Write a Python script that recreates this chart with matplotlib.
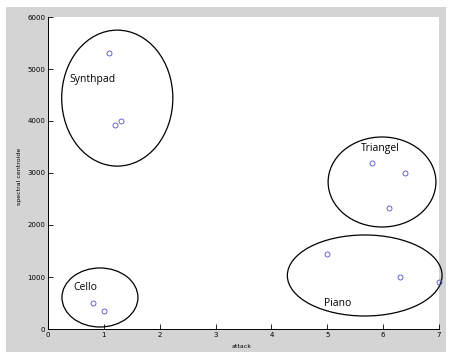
import matplotlib.pyplot as plt
from matplotlib.patches import Ellipse, Rectangle

# points (attack, spectral centroid)
synth_x = [1.1, 1.2, 1.3]
synth_y = [5310, 3920, 4000]
triangel_x = [5.8, 6.4, 6.1]
triangel_y = [3200, 3000, 2320]
piano_x = [5.0, 6.3, 7.0]
piano_y = [1440, 1000, 900]
cello_x = [0.8, 1.0]
cello_y = [500, 350]

# group ellipses: name, centre x, centre y, width, height, label x, label y
groups = ['Synthpad', 'Cello', 'Triangel', 'Piano']
ell_cx = [1.24, 0.93, 5.98, 5.67]
ell_cy = [4440, 606, 2827, 1029]
ell_w = [1.99, 1.36, 1.93, 2.77]
ell_h = [2615, 1135, 1731, 1558]
lab_x = [0.39, 0.45, 5.6, 4.95]
lab_y = [4800, 800, 3480, 500]

xticks = [0, 1, 2, 3, 4, 5, 6, 7]
yticks = [0, 1000, 2000, 3000, 4000, 5000, 6000]

W, H = 451, 358
fig = plt.figure(figsize=(W / 100, H / 100), dpi=100, facecolor='white')
fig.patches.append(Rectangle((6 / W, 1 - 352 / H), 440 / W, 345 / H,
                             transform=fig.transFigure, facecolor='#d4d4d4',
                             edgecolor='none', zorder=-10))
ax = fig.add_axes([48 / W, 1 - 329 / H, 391 / W, 312 / H])
ax.set_facecolor('white')

mk = dict(linestyle='none', marker='o', markersize=3.6, markerfacecolor='none',
          markeredgecolor='#5050d0', markeredgewidth=0.6, clip_on=False)
for xs, ys in [(synth_x, synth_y), (triangel_x, triangel_y),
               (piano_x, piano_y), (cello_x, cello_y)]:
    ax.plot(xs, ys, **mk)

for i, name in enumerate(groups):
    e = Ellipse((ell_cx[i], ell_cy[i]), ell_w[i], ell_h[i], fill=False,
                edgecolor='black', linewidth=0.9, clip_on=False)
    ax.add_patch(e)
    ax.text(lab_x[i], lab_y[i], name, fontsize=7.5, family='Open Sans',
            ha='left', va='center')

ax.set_xlim(0, 7)
ax.set_ylim(0, 6000)
ax.set_xticks(xticks)
ax.set_yticks(yticks)
ax.tick_params(direction='in', length=3.5, width=0.6, labelsize=5, pad=2)
for s in ['top', 'right']:
    ax.spines[s].set_visible(False)
for s in ['left', 'bottom']:
    ax.spines[s].set_linewidth(0.7)

fig.text(242 / W, 1 - 347 / H, 'attack', fontsize=4.5, ha='center', va='center')
fig.text(20 / W, 1 - 176 / H, 'spectral centroide', fontsize=4.5, ha='center',
         va='center', rotation=90)

fig.savefig('out.png', dpi=100, facecolor='white')
